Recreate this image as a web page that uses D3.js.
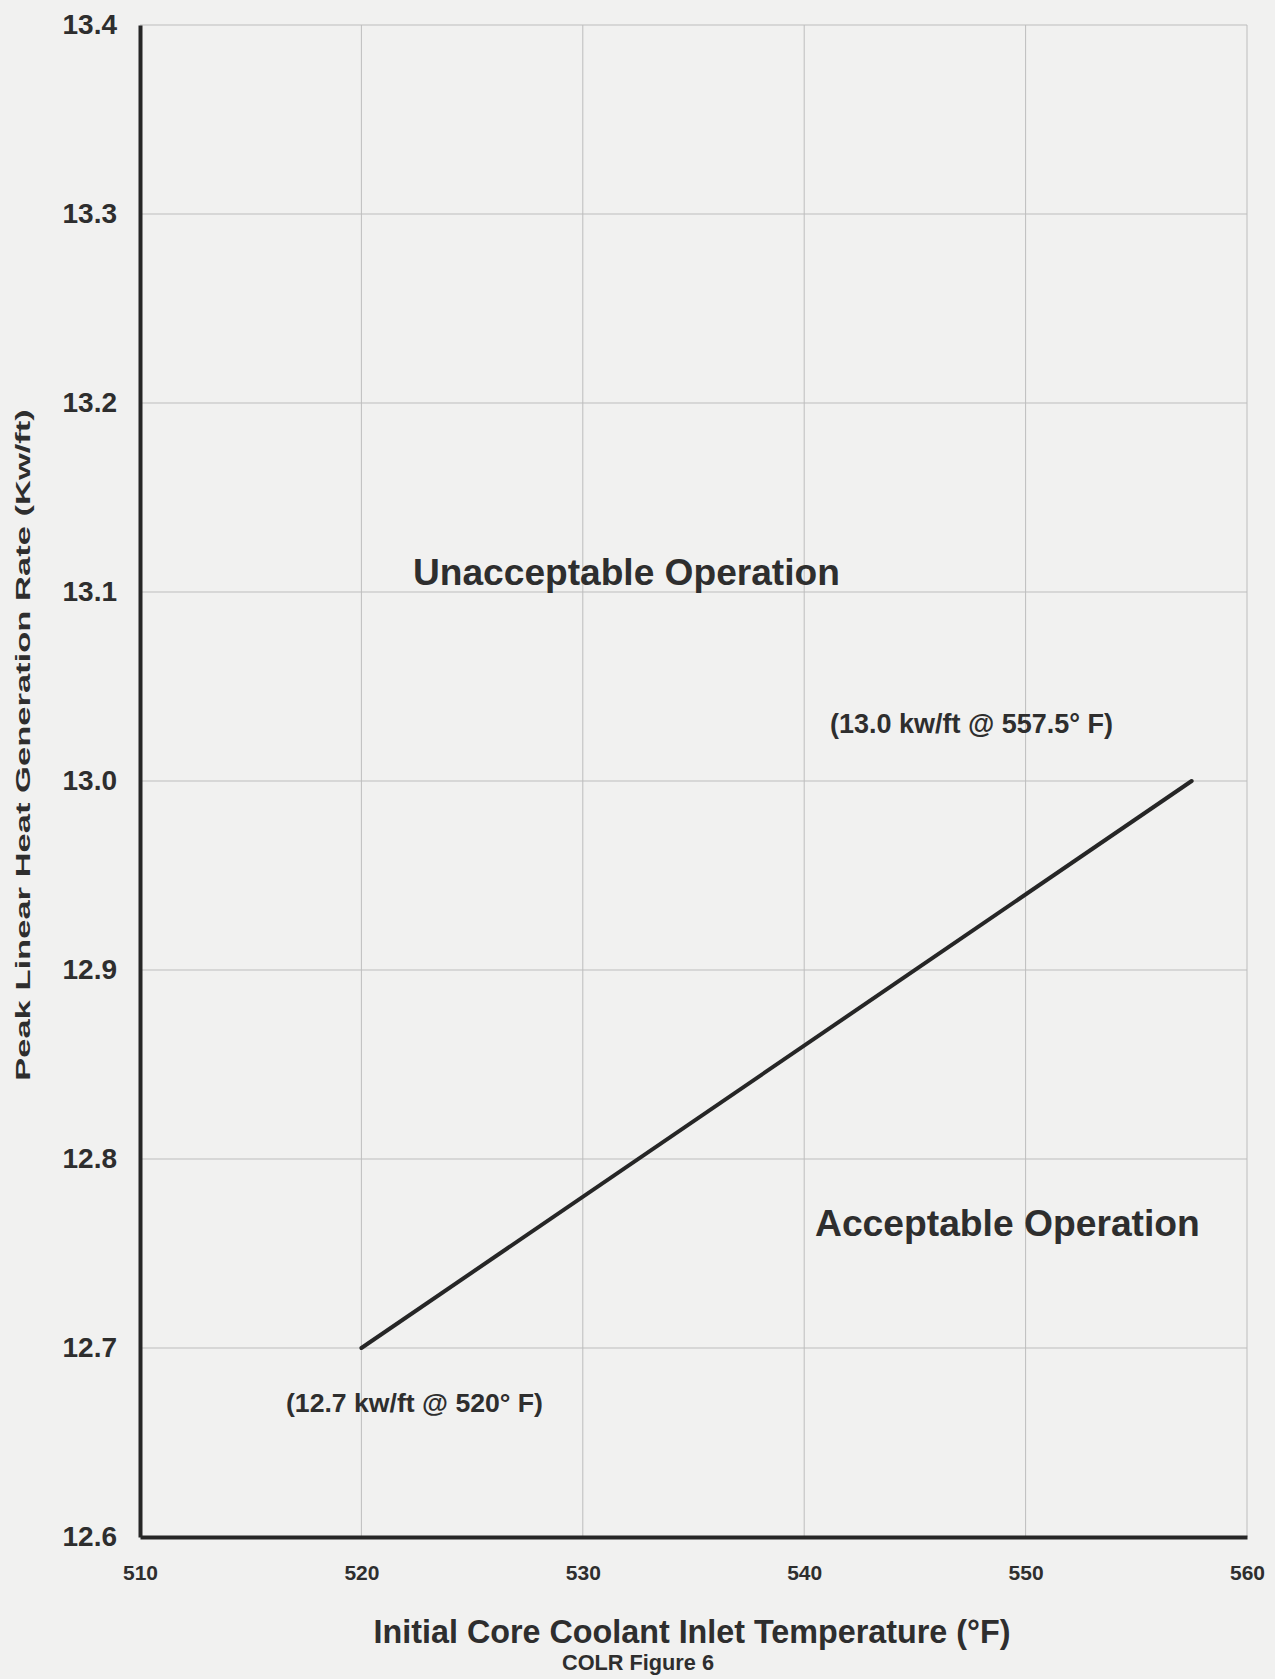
<!DOCTYPE html>
<html>
<head>
<meta charset="utf-8">
<script src="https://cdn.jsdelivr.net/npm/d3@7"></script>
<style>
  html, body { margin: 0; padding: 0; background: #f1f1f0; }
  svg { display: block; }
  text { font-family: "Liberation Sans", Arial, sans-serif; font-weight: bold; fill: #2e2e2e; }
</style>
</head>
<body>
<script>
// ---- data ----
const xTicks = [510, 520, 530, 540, 550, 560];
const yTicks = [12.6, 12.7, 12.8, 12.9, 13.0, 13.1, 13.2, 13.3, 13.4];
const yTickLabels = ["12.6", "12.7", "12.8", "12.9", "13.0", "13.1", "13.2", "13.3", "13.4"];
const limitTemp = [520, 557.5];
const limitRate = [12.7, 13.0];
const pointLabels = ["(12.7 kw/ft @ 520° F)", "(13.0 kw/ft @ 557.5° F)"];
const regionLabels = ["Unacceptable Operation", "Acceptable Operation"];
const xTitle = "Initial Core Coolant Inlet Temperature (°F)";
const yTitle = "Peak Linear Heat Generation Rate (Kw/ft)";
const caption = "COLR Figure 6";

const W = 1275, H = 1679;
const svg = d3.select("body").append("svg").attr("width", W).attr("height", H);
svg.append("rect").attr("width", W).attr("height", H).attr("fill", "#f1f1f0");

const x = d3.scaleLinear().domain([510, 560]).range([140, 1247]);
const y = d3.scaleLinear().domain([12.6, 13.4]).range([1537, 25]);

function fit(sel, target) {
  const w = sel.node().getComputedTextLength();
  const fs = parseFloat(sel.attr("font-size"));
  sel.attr("font-size", fs * target / w);
}

// grid
const grid = svg.append("g");
grid.selectAll("line.v").data(xTicks.slice(1)).enter().append("line")
  .attr("x1", d => x(d)).attr("x2", d => x(d))
  .attr("y1", y(13.4)).attr("y2", y(12.6))
  .attr("stroke", "#bdbdbd").attr("stroke-width", 1);
grid.selectAll("line.h").data(yTicks.slice(1)).enter().append("line")
  .attr("x1", x(510)).attr("x2", x(560))
  .attr("y1", d => y(d)).attr("y2", d => y(d))
  .attr("stroke", "#bdbdbd").attr("stroke-width", 1);

// axes (D3 axes, styled)
const xAxis = svg.append("g").attr("transform", `translate(0,${y(12.6)})`)
  .call(d3.axisBottom(x).tickValues(xTicks).tickSize(0).tickPadding(28).tickFormat(d3.format("d")));
xAxis.select(".domain").attr("stroke", "#262626").attr("stroke-width", 4);
xAxis.selectAll("text").attr("font-size", 21).attr("font-family", null).attr("fill", "#333").style("font-weight", "bold");

const yAxis = svg.append("g").attr("transform", `translate(${x(510)},0)`)
  .call(d3.axisLeft(y).tickValues(yTicks).tickSize(0).tickPadding(23).tickFormat((d, i) => yTickLabels[i]));
yAxis.select(".domain").attr("stroke", "#262626").attr("stroke-width", 4);
yAxis.selectAll("text").attr("font-size", 28).attr("font-family", null).attr("fill", "#333").style("font-weight", "bold");

// limit line
const line = d3.line().x(d => x(d[0])).y(d => y(d[1]));
svg.append("path")
  .datum(limitTemp.map((t, i) => [t, limitRate[i]]))
  .attr("d", line).attr("fill", "none")
  .attr("stroke", "#262626").attr("stroke-width", 4).attr("stroke-linecap", "round");

// point labels
const pl1 = svg.append("text").attr("x", 286).attr("y", 1412).attr("font-size", 22).text(pointLabels[0]);
fit(pl1, 257);
const pl2 = svg.append("text").attr("x", 830).attr("y", 733).attr("font-size", 22).text(pointLabels[1]);
fit(pl2, 283);

// region labels
const r1 = svg.append("text").attr("x", 413).attr("y", 585).attr("font-size", 34).text(regionLabels[0]);
fit(r1, 427);
const r2 = svg.append("text").attr("x", 815).attr("y", 1236).attr("font-size", 34).text(regionLabels[1]);
fit(r2, 385);

// axis titles
const xt = svg.append("text").attr("x", 692).attr("y", 1643).attr("text-anchor", "middle")
  .attr("font-size", 26).text(xTitle);
fit(xt, 637);
const cap = svg.append("text").attr("x", 638).attr("y", 1670).attr("text-anchor", "middle")
  .attr("font-size", 22).text(caption);
fit(cap, 152);
const yt = svg.append("text").attr("text-anchor", "middle").attr("font-size", 21).text(yTitle);
const ytw = yt.node().getComputedTextLength();
yt.attr("transform", `translate(30,745) rotate(-90) scale(${672 / ytw},1)`);
</script>
</body>
</html>
